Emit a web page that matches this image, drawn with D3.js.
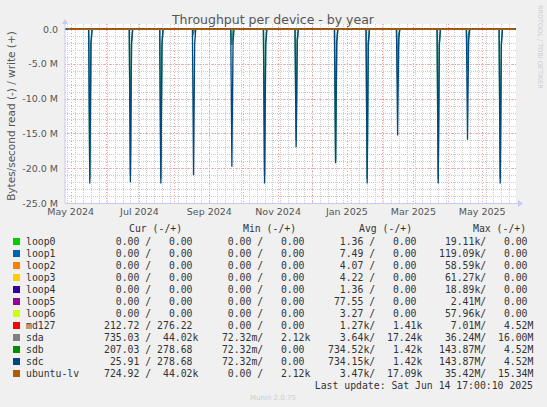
<!DOCTYPE html>
<html><head><meta charset="utf-8">
<script src="https://cdn.jsdelivr.net/npm/d3@7"></script>
<style>
body{margin:0;background:#f0f0f0;}
text{font-family:"DejaVu Sans",sans-serif;}
.mono{font-family:"DejaVu Sans Mono",monospace;font-size:9.8px;fill:#333;white-space:pre;}
</style></head><body>
<div id="chart"></div>
<script>
// spike dates and read depths (bytes/s, negative = read)
var spikeDates = ['2024-05-18','2024-06-23','2024-07-20','2024-08-18','2024-09-21','2024-10-20','2024-11-17','2024-12-22','2025-01-19','2025-02-15','2025-03-23','2025-04-18','2025-05-17'];
var sdcDepth = [-22.2e6,-22.0e6,-22.2e6,-21.0e6,-19.8e6,-22.2e6,-17.0e6,-19.3e6,-22.2e6,-15.3e6,-22.2e6,-15.9e6,-22.2e6];
var sdbDepth = [-21.5e6,-21.0e6,-21.5e6,-0.6e6,-2.3e6,-21.0e6,-16.0e6,-19.0e6,-21.5e6,-7.0e6,-21.5e6,-6.0e6,-21.5e6];

var yTicks = [0,-5e6,-10e6,-15e6,-20e6,-25e6];
var yTickLabels = ['0.0','-5.0 M','-10.0 M','-15.0 M','-20.0 M','-25.0 M'];
var xTicks = ['2024-05-01','2024-07-01','2024-09-01','2024-11-01','2025-01-01','2025-03-01','2025-05-01'];

var devices = ['loop0','loop1','loop2','loop3','loop4','loop5','loop6','md127','sda','sdb','sdc','ubuntu-lv'];
var colors = ['#00cc00','#0066b3','#ff8000','#ffcc00','#330099','#990099','#ccff00','#ff0000','#808080','#008f00','#00487d','#b35a00'];
var cur = ['  0.00 /   0.00 ','  0.00 /   0.00 ','  0.00 /   0.00 ','  0.00 /   0.00 ','  0.00 /   0.00 ','  0.00 /   0.00 ','  0.00 /   0.00 ','212.72 / 276.22 ','735.03 /  44.02k','207.03 / 278.68 ',' 25.91 / 278.68 ','724.92 /  44.02k'];
var mins = ['  0.00 /   0.00 ','  0.00 /   0.00 ','  0.00 /   0.00 ','  0.00 /   0.00 ','  0.00 /   0.00 ','  0.00 /   0.00 ','  0.00 /   0.00 ','  0.00 /   0.00 ',' 72.32m/   2.12k',' 72.32m/   0.00 ',' 72.32m/   0.00 ','  0.00 /   2.12k'];
var avgs = ['  1.36 /   0.00 ','  7.49 /   0.00 ','  4.07 /   0.00 ','  4.22 /   0.00 ','  1.36 /   0.00 ',' 77.55 /   0.00 ','  3.27 /   0.00 ','  1.27k/   1.41k','  3.64k/  17.24k','734.52k/   1.42k','734.15k/   1.42k','  3.47k/  17.09k'];
var maxs = [' 19.11k/   0.00 ','119.09k/   0.00 ',' 58.59k/   0.00 ',' 61.27k/   0.00 ',' 18.89k/   0.00 ','  2.41M/   0.00 ',' 57.96k/   0.00 ','  7.01M/   4.52M',' 36.24M/  16.00M','143.87M/   4.52M','143.87M/   4.52M',' 35.42M/  15.34M'];

var W = 547, H = 407;
var plot = {left: 65, right: 516, top: 29, bottom: 203};
var parse = d3.timeParse('%Y-%m-%d');

var svg = d3.select('#chart').append('svg').attr('width', W).attr('height', H);
svg.append('rect').attr('width', W).attr('height', H).attr('fill', '#f0f0f0');

var x = d3.scaleTime().domain([parse('2024-04-26'), parse('2025-05-31')]).range([plot.left, plot.right]);
var y = d3.scaleLinear().domain([-25e6, 0]).range([plot.bottom, plot.top]);

svg.append('rect').attr('x', plot.left).attr('y', plot.top - 5)
    .attr('width', plot.right - plot.left).attr('height', plot.bottom - plot.top + 5).attr('fill', '#fff');

// minor grid
var weeks = d3.timeWeek.range(x.domain()[0], x.domain()[1]);
svg.selectAll('.vminor').data(weeks).enter().append('line')
    .attr('x1', d => Math.round(x(d)) + 0.5).attr('x2', d => Math.round(x(d)) + 0.5)
    .attr('y1', plot.top - 5).attr('y2', plot.bottom)
    .attr('stroke', '#ccc').attr('stroke-dasharray', '1,1');
svg.selectAll('.hminor').data(d3.range(0, -25e6, -1e6)).enter().append('line')
    .attr('x1', plot.left).attr('x2', plot.right)
    .attr('y1', d => Math.round(y(d)) + 0.5).attr('y2', d => Math.round(y(d)) + 0.5)
    .attr('stroke', '#ccc').attr('stroke-dasharray', '1,1');
// major grid
svg.selectAll('.vmajor').data(d3.timeMonth.range(x.domain()[0], x.domain()[1])).enter().append('line')
    .attr('x1', d => Math.round(x(d)) + 0.5).attr('x2', d => Math.round(x(d)) + 0.5)
    .attr('y1', plot.top - 5).attr('y2', plot.bottom)
    .attr('stroke', '#f0a0a0').attr('stroke-dasharray', '1,2');
svg.selectAll('.hmajor').data(yTicks).enter().append('line')
    .attr('x1', plot.left).attr('x2', plot.right)
    .attr('y1', d => Math.round(y(d)) + 0.5).attr('y2', d => Math.round(y(d)) + 0.5)
    .attr('stroke', '#f0a0a0').attr('stroke-dasharray', '1,2');

// series built from spike data
function series(depths) {
    var pts = [{d: x.domain()[0], v: 0}];
    spikeDates.forEach(function (s, i) {
        var t = parse(s);
        pts.push({d: d3.timeDay.offset(t, -1), v: 0});
        pts.push({d: t, v: depths[i]});
        pts.push({d: d3.timeDay.offset(t, 1), v: depths[i] * 0.1});
        pts.push({d: d3.timeDay.offset(t, 2), v: 0});
    });
    pts.push({d: x.domain()[1], v: 0});
    return pts;
}
var line = d3.line().x(d => x(d.d)).y(d => y(d.v));
svg.append('path').datum(series(sdbDepth)).attr('d', line)
    .attr('fill', 'none').attr('stroke', '#3a9a6a').attr('stroke-width', 1.5);
svg.append('path').datum(series(sdcDepth)).attr('d', line)
    .attr('fill', 'none').attr('stroke', '#00487d').attr('stroke-width', 1.3);
svg.append('line').attr('x1', plot.left + 2).attr('x2', plot.right - 1)
    .attr('y1', y(0)).attr('y2', y(0)).attr('stroke', '#b35a00').attr('stroke-width', 2);
svg.append('line').attr('x1', plot.left + 2).attr('x2', plot.right - 1)
    .attr('y1', y(0) - 0.5).attr('y2', y(0) - 0.5).attr('stroke', '#555').attr('stroke-width', 0.6)
    .attr('stroke-dasharray', '2,1');

// axes
svg.append('line').attr('x1', plot.left).attr('x2', plot.left).attr('y1', plot.bottom).attr('y2', plot.top - 7)
    .attr('stroke', '#c8c8f0');
svg.append('line').attr('x1', plot.left).attr('x2', plot.right + 4).attr('y1', plot.bottom + 0.5).attr('y2', plot.bottom + 0.5)
    .attr('stroke', '#c8c8f0');
svg.append('path').attr('d', `M${plot.left - 3},${plot.top - 5} L${plot.left},${plot.top - 10} L${plot.left + 3},${plot.top - 5}Z`).attr('fill', '#c8c8f0');
svg.append('path').attr('d', `M${plot.right + 2},${plot.bottom - 3} L${plot.right + 7},${plot.bottom + 0.5} L${plot.right + 2},${plot.bottom + 4}Z`).attr('fill', '#c8c8f0');

svg.selectAll('.ylab').data(yTicks).enter().append('text')
    .attr('x', 58).attr('y', d => y(d) + 3.5).attr('text-anchor', 'end')
    .attr('font-size', 9.5).attr('fill', '#555').text((d, i) => yTickLabels[i]);
svg.selectAll('.xlab').data(xTicks).enter().append('text')
    .attr('x', d => x(parse(d))).attr('y', 215).attr('text-anchor', 'middle')
    .attr('font-size', 9.5).attr('fill', '#555').text(d => d3.timeFormat('%b %Y')(parse(d)));

svg.append('text').attr('x', 273).attr('y', 24).attr('text-anchor', 'middle')
    .attr('font-size', 12.5).attr('fill', '#555').text('Throughput per device - by year');
svg.append('text').attr('transform', 'translate(15,116) rotate(-90)').attr('text-anchor', 'middle')
    .attr('font-size', 10.5).attr('fill', '#555').text('Bytes/second read (-) / write (+)');
svg.append('text').attr('transform', 'translate(538,5) rotate(90)')
    .attr('font-size', 6.5).attr('fill', '#ccc').text('RRDTOOL / TOBI OETIKER');

// legend
var blockX = [104, 216, 328, 439];
[['Cur (-/+)', 129], ['Min (-/+)', 243], ['Avg (-/+)', 359], ['Max (-/+)', 473]].forEach(function (h) {
    svg.append('text').attr('class', 'mono').attr('x', h[1]).attr('y', 232).text(h[0]);
});
devices.forEach(function (dev, i) {
    var yy = 245 + i * 12;
    svg.append('rect').attr('x', 13).attr('y', yy - 7).attr('width', 7).attr('height', 7).attr('fill', colors[i]);
    svg.append('text').attr('class', 'mono').attr('x', 26).attr('y', yy).text(dev);
    [cur, mins, avgs, maxs].forEach(function (col, j) {
        svg.append('text').attr('class', 'mono').attr('x', blockX[j]).attr('y', yy).text(col[i]);
    });
});
svg.append('text').attr('class', 'mono').attr('x', 533).attr('y', 389).attr('text-anchor', 'end')
    .text('Last update: Sat Jun 14 17:00:10 2025');
svg.append('text').attr('x', 273).attr('y', 400).attr('text-anchor', 'middle')
    .attr('font-size', 7).attr('fill', '#ccc').text('Munin 2.0.75');
</script></body></html>
